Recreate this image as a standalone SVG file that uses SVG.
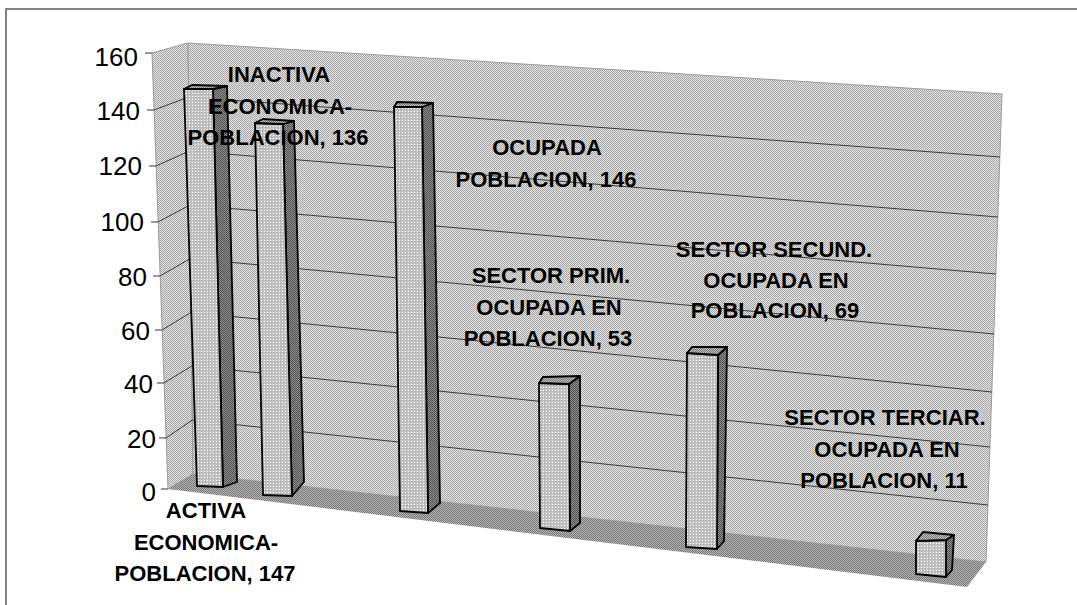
<svg xmlns="http://www.w3.org/2000/svg" width="1077" height="605" viewBox="0 0 1077 605">
  <defs>
    <pattern id="pWall" width="2" height="2" patternUnits="userSpaceOnUse">
      <rect width="2" height="2" fill="#e4e4e4"/>
      <rect width="1" height="1" fill="#a6a6a6"/>
      <rect x="1" y="1" width="1" height="1" fill="#a6a6a6"/>
    </pattern>
    <pattern id="pFloor" width="2" height="2" patternUnits="userSpaceOnUse">
      <rect width="2" height="2" fill="#b2b2b2"/>
      <rect width="1" height="1" fill="#7a7a7a"/>
      <rect x="1" y="1" width="1" height="1" fill="#7a7a7a"/>
    </pattern>
    <pattern id="pFront" width="3" height="3" patternUnits="userSpaceOnUse">
      <rect width="3" height="3" fill="#c2c2c2"/>
      <rect width="1" height="1" fill="#ffffff"/>
      <rect x="1" y="1" width="1" height="1" fill="#a8a8a8"/>
    </pattern>
    <pattern id="pSide" width="2" height="2" patternUnits="userSpaceOnUse">
      <rect width="2" height="2" fill="#8a8a8a"/>
      <rect width="1" height="1" fill="#555555"/>
      <rect x="1" y="1" width="1" height="1" fill="#555555"/>
    </pattern>
    <pattern id="pTop" width="2" height="2" patternUnits="userSpaceOnUse">
      <rect width="2" height="2" fill="#b8b8b8"/>
      <rect width="1" height="1" fill="#7e7e7e"/>
      <rect x="1" y="1" width="1" height="1" fill="#7e7e7e"/>
    </pattern>
  </defs>
  <style>
    .frame{fill:none;stroke:#5a5a5a;stroke-width:1.5}
    .wall{fill:url(#pWall);stroke:#9a9a9a;stroke-width:1}
    .floor{fill:url(#pFloor);stroke:none}
    .grid{stroke:#3a3a3a;stroke-width:1;fill:none}
    .tick{stroke:#555555;stroke-width:1.2}
    .ax{font-family:"Liberation Sans",Arial,sans-serif;font-size:26px;fill:#000;text-anchor:end}
    .lbl{font-family:"Liberation Sans",Arial,sans-serif;font-size:22px;font-weight:bold;fill:#000;text-anchor:middle}
    .front{fill:url(#pFront);stroke:#000;stroke-width:1.8;stroke-linejoin:round}
    .side{fill:url(#pSide);stroke:#000;stroke-width:1.8;stroke-linejoin:round}
    .top{fill:url(#pTop);stroke:#000;stroke-width:1.8;stroke-linejoin:round}
  </style>
  <rect width="1077" height="605" fill="#ffffff"/>
  <rect class="frame" x="6" y="9" width="1200" height="700"/>

  <g id="walls">
    <polygon class="wall" points="152,53 188,43 193,474 168,489"/>
    <polygon class="wall" points="188,43 1002,94 986,562 193,474"/>
  </g>
  <g id="floor">
    <polygon class="floor" points="168,489 193,474 986,562 967,587"/>
  </g>
  <g id="gridlines">
    <polyline class="grid" points="154,110 188.6,97 1000,157"/>
    <polyline class="grid" points="156,166 189.3,151 998,217"/>
    <polyline class="grid" points="158,222 189.9,205 996,274"/>
    <polyline class="grid" points="160,276 190.5,258.5 994,334"/>
    <polyline class="grid" points="162,330 191.1,312.4 992,392"/>
    <polyline class="grid" points="164,383 191.8,366 990,447"/>
    <polyline class="grid" points="166,438 192.4,420 988,505"/>
  </g>
  <g id="axis">
    <line class="tick" x1="145" y1="53" x2="152" y2="53"/>
    <line class="tick" x1="147" y1="110" x2="154" y2="110"/>
    <line class="tick" x1="149" y1="166" x2="156" y2="166"/>
    <line class="tick" x1="151" y1="222" x2="158" y2="222"/>
    <line class="tick" x1="153" y1="276" x2="160" y2="276"/>
    <line class="tick" x1="155" y1="330" x2="162" y2="330"/>
    <line class="tick" x1="157" y1="383" x2="164" y2="383"/>
    <line class="tick" x1="159" y1="438" x2="166" y2="438"/>
    <line class="tick" x1="161" y1="489" x2="168" y2="489"/>
    <text class="ax" x="138" y="66">160</text>
    <text class="ax" x="140" y="120">140</text>
    <text class="ax" x="142" y="175">120</text>
    <text class="ax" x="144" y="231">100</text>
    <text class="ax" x="147" y="286">80</text>
    <text class="ax" x="150" y="340">60</text>
    <text class="ax" x="153" y="393">40</text>
    <text class="ax" x="156" y="448">20</text>
    <text class="ax" x="156" y="501">0</text>
  </g>

  <g id="bar-activa">
    <polygon class="side" points="213,89 227,86 237,482 223,487"/>
    <polygon class="front" points="184,89 213,89 223,487 197,486"/>
    <polygon class="top" points="184,89 192,85 227,86 213,89"/>
  </g>
  <g id="bar-inactiva">
    <polygon class="side" points="283,124 294,121 304,482 292,496"/>
    <polygon class="front" points="255,123 283,124 292,496 263,495"/>
    <polygon class="top" points="255,123 263,119 294,121 283,124"/>
  </g>
  <g id="bar-ocupada">
    <polygon class="side" points="422,107 433,103 440,503 428,513"/>
    <polygon class="front" points="394,107 422,107 428,513 400,511"/>
    <polygon class="top" points="394,107 397,102 433,103 422,107"/>
  </g>
  <g id="bar-prim">
    <polygon class="side" points="569,384 580,376 580,523 570,531"/>
    <polygon class="front" points="539,383 569,384 570,531 540,528"/>
    <polygon class="top" points="539,383 543,377 580,376 569,384"/>
  </g>
  <g id="bar-secund">
    <polygon class="side" points="718,355 727,347 724,541 717,549"/>
    <polygon class="front" points="687,353 718,355 717,549 686,547"/>
    <polygon class="top" points="687,353 692,347 727,347 718,355"/>
  </g>
  <g id="bar-terciar">
    <polygon class="side" points="946,540 954,535 952,570 946,577"/>
    <polygon class="front" points="916,541 946,540 946,577 916,574"/>
    <polygon class="top" points="916,541 923,532 954,535 946,540"/>
  </g>

  <g id="labels">
    <g id="label-inactiva">
      <text class="lbl" x="279" y="82">INACTIVA</text>
      <text class="lbl" x="280" y="114">ECONOMICA-</text>
      <text class="lbl" x="278" y="145">POBLACION, 136</text>
    </g>
    <g id="label-activa">
      <text class="lbl" x="206" y="518">ACTIVA</text>
      <text class="lbl" x="206" y="550">ECONOMICA-</text>
      <text class="lbl" x="205" y="581">POBLACION, 147</text>
    </g>
    <g id="label-ocupada">
      <text class="lbl" x="547" y="155">OCUPADA</text>
      <text class="lbl" x="546" y="187">POBLACION, 146</text>
    </g>
    <g id="label-prim">
      <text class="lbl" x="551" y="283">SECTOR PRIM.</text>
      <text class="lbl" x="549" y="315">OCUPADA EN</text>
      <text class="lbl" x="548" y="346">POBLACION, 53</text>
    </g>
    <g id="label-secund">
      <text class="lbl" x="774" y="257">SECTOR SECUND.</text>
      <text class="lbl" x="776" y="288">OCUPADA EN</text>
      <text class="lbl" x="775" y="318">POBLACION, 69</text>
    </g>
    <g id="label-terciar">
      <text class="lbl" x="885" y="425">SECTOR TERCIAR.</text>
      <text class="lbl" x="887" y="457">OCUPADA EN</text>
      <text class="lbl" x="884" y="488">POBLACION, 11</text>
    </g>
  </g>
  <g id="connectors"/>
</svg>
